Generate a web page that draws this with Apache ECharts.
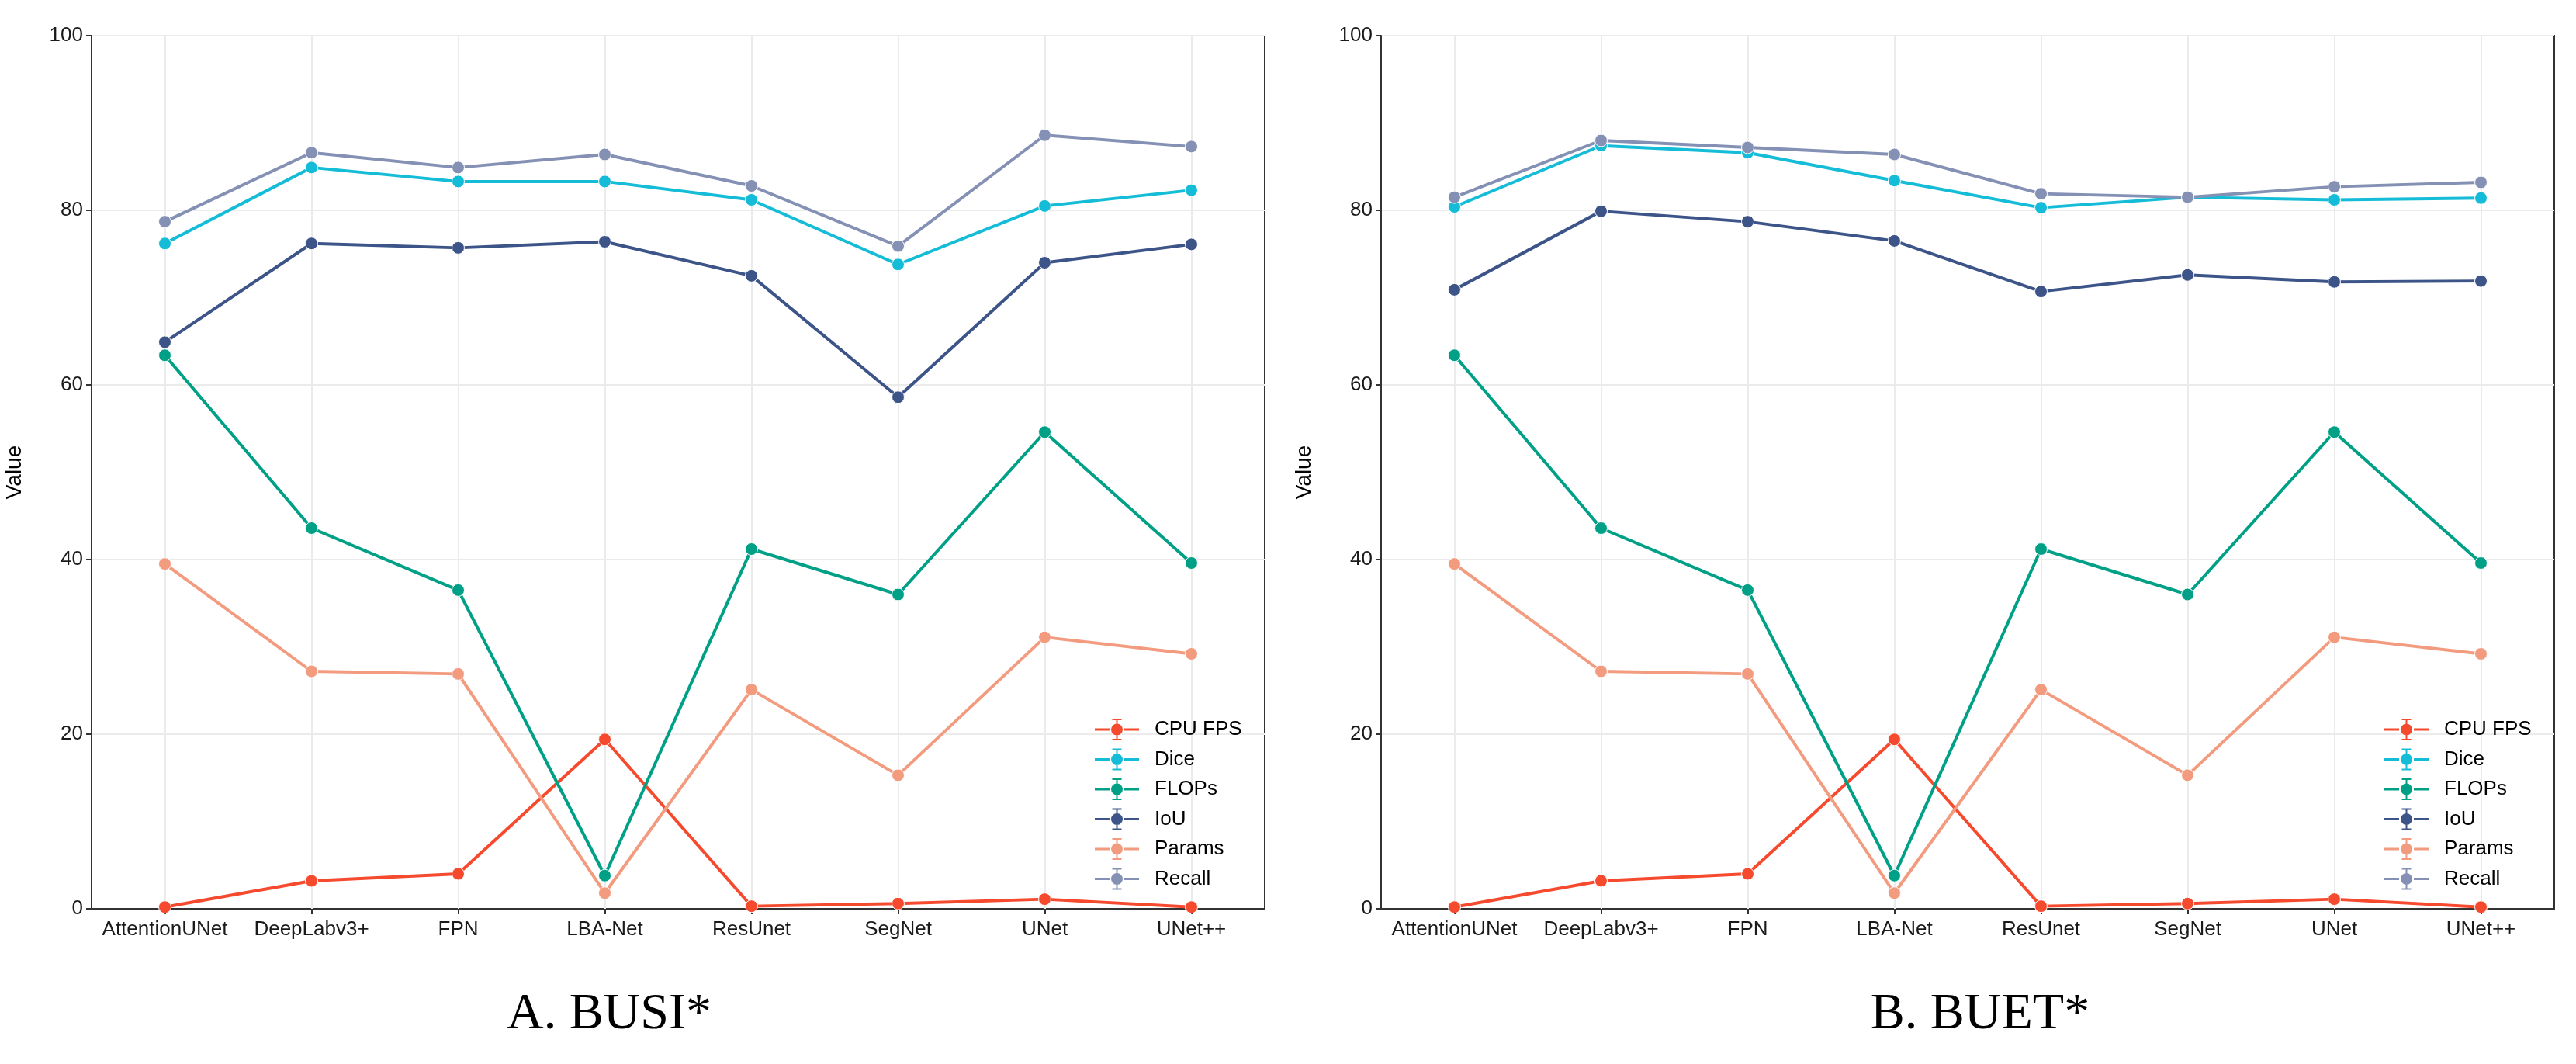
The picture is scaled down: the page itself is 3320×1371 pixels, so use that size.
<!DOCTYPE html>
<html>
<head>
<meta charset="utf-8">
<script src="https://cdn.jsdelivr.net/npm/echarts@6/dist/echarts.min.js"></script>
<style>
html,body{margin:0;padding:0;background:#fff;}
#chart{width:3320px;height:1371px;}
</style>
</head>
<body>
<div id="chart"></div>
<script>
// ---- data ----
const categories = ['AttentionUNet','DeepLabv3+','FPN','LBA-Net','ResUnet','SegNet','UNet','UNet++'];
const seriesNames = ['CPU FPS','Dice','FLOPs','IoU','Params','Recall'];
const yTicks = [0,20,40,60,80,100];
const panelTitles = ['A. BUSI*','B. BUET*'];

// A. BUSI*
const busiCpuFps = [0.2, 3.2, 4.0, 19.4, 0.3, 0.6, 1.1, 0.2];
const busiDice   = [76.2, 84.9, 83.3, 83.3, 81.2, 73.8, 80.5, 82.3];
const busiFlops  = [63.4, 43.6, 36.5, 3.8, 41.2, 36.0, 54.6, 39.6];
const busiIou    = [64.9, 76.2, 75.7, 76.4, 72.5, 58.6, 74.0, 76.1];
const busiParams = [39.5, 27.2, 26.9, 1.8, 25.1, 15.3, 31.1, 29.2];
const busiRecall = [78.7, 86.6, 84.9, 86.4, 82.8, 75.9, 88.6, 87.3];

// B. BUET*
const buetCpuFps = [0.2, 3.2, 4.0, 19.4, 0.3, 0.6, 1.1, 0.2];
const buetDice   = [80.4, 87.4, 86.6, 83.4, 80.3, 81.5, 81.2, 81.4];
const buetFlops  = [63.4, 43.6, 36.5, 3.8, 41.2, 36.0, 54.6, 39.6];
const buetIou    = [70.9, 79.9, 78.7, 76.5, 70.7, 72.6, 71.8, 71.9];
const buetParams = [39.5, 27.2, 26.9, 1.8, 25.1, 15.3, 31.1, 29.2];
const buetRecall = [81.5, 88.0, 87.2, 86.4, 81.9, 81.5, 82.7, 83.2];

// ---- styling ----
const colors = ['#F64A2F','#14BCD7','#00A087','#3C5488','#F39B7F','#8491B4'];
const SANS = 'Liberation Sans';
const gridDefs = [
  {left:118, top:46, width:1512, height:1125},
  {left:1780, top:46, width:1512, height:1125}
];
const legendLefts = [1411, 3073];
const titleX = [785, 2552];

// legend icon: horizontal line + point + error bar with caps (all sub-paths clockwise)
const legendIcon = 'path://M0,12.5L19,12.5L19,15.5L0,15.5Z M38,12.5L57,12.5L57,15.5L38,15.5Z ' +
  'M27.5,1L29.5,1L29.5,27L27.5,27Z M22.5,0L34.5,0L34.5,2L22.5,2Z M22.5,26L34.5,26L34.5,28L22.5,28Z ' +
  'M21,14a7.5,7.5 0 1,1 15,0a7.5,7.5 0 1,1 -15,0Z';

const panels = [
  [busiCpuFps, busiDice, busiFlops, busiIou, busiParams, busiRecall],
  [buetCpuFps, buetDice, buetFlops, buetIou, buetParams, buetRecall]
];

const grid = gridDefs.map(g => Object.assign({
  show:true, borderColor:'#333', borderWidth:2, backgroundColor:'#fff', containLabel:false
}, g));

const xAxis = gridDefs.map((g,i) => ({
  type:'category', gridIndex:i, data:categories, boundaryGap:true,
  axisLine:{show:true, lineStyle:{color:'#333', width:2}},
  axisTick:{show:true, alignWithLabel:true, interval:0, length:7, lineStyle:{color:'#333', width:2}},
  axisLabel:{interval:0, fontFamily:SANS, fontSize:26, color:'#1a1a1a', margin:14},
  splitLine:{show:false}
}));

const yAxis = gridDefs.map((g,i) => ({
  type:'value', gridIndex:i, min:yTicks[0], max:yTicks[yTicks.length-1], interval:yTicks[1]-yTicks[0],
  name:'Value', nameLocation:'middle', nameGap:85, nameRotate:90,
  nameTextStyle:{fontFamily:SANS, fontSize:28, color:'#000'},
  axisLine:{show:true, lineStyle:{color:'#333', width:2}},
  axisTick:{show:true, length:7, lineStyle:{color:'#333', width:2}},
  axisLabel:{fontFamily:SANS, fontSize:26, color:'#1a1a1a', margin:11},
  splitLine:{show:true, lineStyle:{color:'#EBEBEB', width:2}}
}));

const series = [];
panels.forEach((vals, p) => {
  // vertical grid lines at category centres (kept beneath the data lines)
  series.push({
    type:'line', xAxisIndex:p, yAxisIndex:p, data:[], z:1, silent:true,
    markLine:{silent:true, z:1, symbol:'none', label:{show:false}, animation:false,
      lineStyle:{color:'#EBEBEB', width:2, type:'solid'},
      data:categories.map(c => ({xAxis:c}))}
  });
  vals.forEach((d, k) => {
    series.push({
      name:seriesNames[k], type:'line', xAxisIndex:p, yAxisIndex:p, data:d, z:10+k,
      symbol:'circle', symbolSize:16, showSymbol:true,
      lineStyle:{color:colors[k], width:4},
      itemStyle:{color:colors[k], borderColor:'#fff', borderWidth:1}
    });
  });
});

const legend = legendLefts.map(l => ({
  orient:'vertical', left:l, top:926, padding:0, itemGap:10.5,
  itemWidth:57, itemHeight:28, icon:legendIcon,
  itemStyle:{borderWidth:0},
  data:seriesNames,
  textStyle:{fontFamily:SANS, fontSize:26, color:'#000', padding:[0,0,0,15]}
}));

const graphic = panelTitles.map((t,i) => ({
  type:'text', x:titleX[i], y:1308,
  style:{text:t, font:'66px "Liberation Serif"', fill:'#000',
    align:'center', verticalAlign:'middle', textAlign:'center', textVerticalAlign:'middle'}
}));

const chart = echarts.init(document.getElementById('chart'));
chart.setOption({
  animation:false,
  backgroundColor:'#fff',
  color:colors,
  grid, xAxis, yAxis, legend, series, graphic
});
</script>
</body>
</html>
